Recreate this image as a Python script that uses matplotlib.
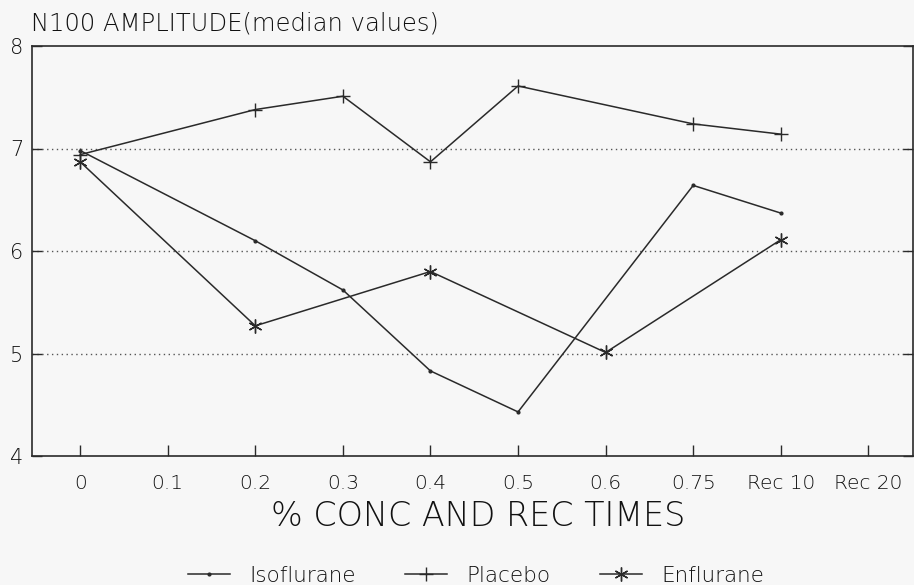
import matplotlib
matplotlib.use("Agg")
import matplotlib.pyplot as plt
import numpy as np

categories = ["0", "0.1", "0.2", "0.3", "0.4", "0.5", "0.6", "0.75", "Rec 10", "Rec 20"]

iso_x = ["0", "0.2", "0.3", "0.4", "0.5", "0.75", "Rec 10"]
iso_y = [6.98, 6.10, 5.62, 4.83, 4.43, 6.64, 6.37]

plac_x = ["0", "0.2", "0.3", "0.4", "0.5", "0.75", "Rec 10"]
plac_y = [6.94, 7.38, 7.51, 6.87, 7.61, 7.24, 7.14]

enf_x = ["0", "0.2", "0.4", "0.6", "Rec 10"]
enf_y = [6.87, 5.27, 5.80, 5.01, 6.11]

yticks = [4, 5, 6, 7, 8]

plt.rcParams['font.family'] = ['DejaVu Sans']
plt.rcParams['font.weight'] = 'light'
bg = '#f7f7f7'
tc = '#111111'
fig = plt.figure(figsize=(9.14, 5.85), dpi=100, facecolor=bg)
ax = fig.add_axes([32/914, 1-456/585, (913-32)/914, (456-46)/585], facecolor=bg)

idx = {c: i for i, c in enumerate(categories)}
lc = '#2a2a2a'
ax.plot([idx[c] for c in iso_x], iso_y, color=lc, lw=1.1, marker='.', ms=4, label='Isoflurane')
ax.plot([idx[c] for c in plac_x], plac_y, color=lc, lw=1.1, marker='+', ms=10, mew=1.0, label='Placebo')
ax.plot([idx[c] for c in enf_x], enf_y, color=lc, lw=1.1, marker=(6, 2, 0), ms=10, mew=1.0, label='Enflurane')

ax.set_xlim(-0.55, 9.51)
ax.set_ylim(4, 8)
ax.set_xticks(range(len(categories)))
ax.set_xticklabels(categories, fontsize=14.5, color=tc)
ax.set_yticks(yticks)
ax.set_yticklabels([str(v) for v in yticks], fontsize=15, color=tc)
ax.tick_params(axis='x', direction='in', length=8, width=1, pad=13, color=lc)
ax.tick_params(axis='y', direction='in', length=7, width=1, pad=6, color=lc, right=True)
for y in [5, 6, 7]:
    ax.axhline(y, color='#555555', lw=1.0, ls=(0, (1, 2.5)), zorder=0)
for s in ax.spines.values():
    s.set_color(lc)
    s.set_linewidth(1.2)

ax.set_xlabel('% CONC AND REC TIMES', fontsize=24, color=tc, va='center', fontweight='light')
ax.xaxis.set_label_coords((478-32)/881, -(517-456)/410)

fig.text(31/914, 1-23/585, 'N100 AMPLITUDE(median values)', fontsize=17.5, color=tc,
         ha='left', va='center')

leg = fig.legend(loc='center', bbox_to_anchor=(476/914, 1-576/585), ncol=3, frameon=False,
                 fontsize=15.5, handlelength=1.95, columnspacing=2.3, handletextpad=0.9)
for t in leg.get_texts():
    t.set_color(tc)

fig.savefig('out.png', dpi=100, facecolor=bg)
